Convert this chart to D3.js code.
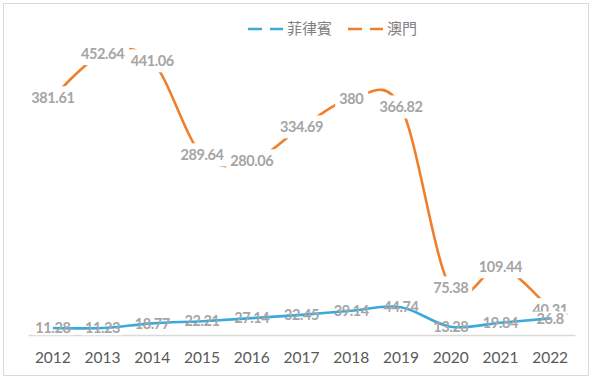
<!DOCTYPE html>
<html>
<head>
<meta charset="utf-8">
<script src="https://cdn.jsdelivr.net/npm/d3@7/dist/d3.min.js"></script>
<style>
  body { margin: 0; background: #fff; }
  svg { display: block; }
</style>
</head>
<body>
<div id="chart"></div>
<script>
const years = ['2012', '2013', '2014', '2015', '2016', '2017', '2018', '2019', '2020', '2021', '2022'];
const philippines = [11.28, 11.23, 18.77, 22.21, 27.14, 32.45, 39.14, 44.74, 13.28, 19.84, 26.8];
const macau = [381.61, 452.64, 441.06, 289.64, 280.06, 334.69, 380, 366.82, 75.38, 109.44, 40.31];
const seriesNames = ['菲律賓', '澳門'];
const yDomain = [0, 500];

const chartParams = {
    width: 595,
    height: 380,
    plot: {left: 28, right: 575, top: 24.5, bottom: 335},
    colors: ['#3aaadc', '#f07f2c'],
    labelColor: '#a5a5a5',
    axisColor: '#595959'
};

const svg = d3.select("#chart")
    .append("svg")
    .attr("width", chartParams.width)
    .attr("height", chartParams.height);

// chart border
svg.append("rect")
    .attr("x", 3.5)
    .attr("y", 3.5)
    .attr("width", 585)
    .attr("height", 372)
    .attr("fill", "#fff")
    .attr("stroke", "#d9d9d9")
    .attr("stroke-width", 1);

const x = d3.scaleBand()
    .domain(years)
    .range([chartParams.plot.left, chartParams.plot.right]);

const y = d3.scaleLinear()
    .domain(yDomain)
    .range([chartParams.plot.bottom, chartParams.plot.top]);

// X-axis
const xAxis = svg.append("g")
    .attr("transform", `translate(0,${chartParams.plot.bottom})`)
    .call(d3.axisBottom(x).tickSize(0).tickPadding(17));
xAxis.select(".domain").attr("stroke", "#d9d9d9").attr("stroke-width", 1.3);
xAxis.selectAll("text")
    .attr("fill", chartParams.axisColor)
    .style("font-family", "Lato, 'Open Sans', sans-serif")
    .style("font-size", "15.5px");

const line = d3.line()
    .x((d, i) => x(years[i]) + x.bandwidth() / 2)
    .y(d => y(d))
    .curve(d3.curveCardinal.tension(0));

function drawLine(values, color) {
    svg.append("path")
        .datum(values)
        .attr("fill", "none")
        .attr("stroke", color)
        .attr("stroke-width", 2.6)
        .attr("d", line);
}

// label boxes first, text later, so a line can sit between them
function makeLabels(values, pad) {
    const boxes = svg.append("g");
    const texts = svg.append("g");
    const pos = (d, i) => `translate(${x(years[i]) + x.bandwidth() / 2},${y(d)})`;

    const t = texts.selectAll("text")
        .data(values)
        .enter().append("text")
        .attr("transform", pos)
        .attr("text-anchor", "middle")
        .attr("dy", "0.36em")
        .attr("fill", chartParams.labelColor)
        .style("font-family", "Lato, 'Open Sans', sans-serif")
        .style("font-weight", "bold")
        .style("font-size", "14.5px")
        .style("letter-spacing", "-0.4px")
        .text(d => d);

    t.each(function(d, i) {
        const b = this.getBBox();
        boxes.append("rect")
            .attr("transform", pos(d, i))
            .attr("x", b.x - pad.x)
            .attr("y", b.y - pad.top)
            .attr("width", b.width + 2 * pad.x)
            .attr("height", b.height + pad.top + pad.bottom)
            .attr("fill", "#fff");
    });
    return texts;
}

drawLine(macau, chartParams.colors[1]);
makeLabels(macau, {x: 4, top: 3, bottom: 3});
const blueTexts = makeLabels(philippines, {x: 3, top: -2, bottom: -1});
drawLine(philippines, chartParams.colors[0]);
blueTexts.raise();

// Legend
const legendItems = [
    {name: seriesNames[0], color: chartParams.colors[0], x: 248},
    {name: seriesNames[1], color: chartParams.colors[1], x: 348}
];
const legend = svg.selectAll(".legend")
    .data(legendItems)
    .enter().append("g")
    .attr("class", "legend")
    .attr("transform", d => `translate(${d.x},29)`);

legend.append("line")
    .attr("x1", 0)
    .attr("x2", 35)
    .attr("stroke", d => d.color)
    .attr("stroke-width", 2.6)
    .attr("stroke-dasharray", "14,8");

legend.append("text")
    .attr("x", 39)
    .attr("dy", "0.35em")
    .attr("fill", "#808080")
    .style("font-family", "'Noto Sans CJK TC', sans-serif")
    .style("font-size", "15px")
    .text(d => d.name);
</script>
</body>
</html>
